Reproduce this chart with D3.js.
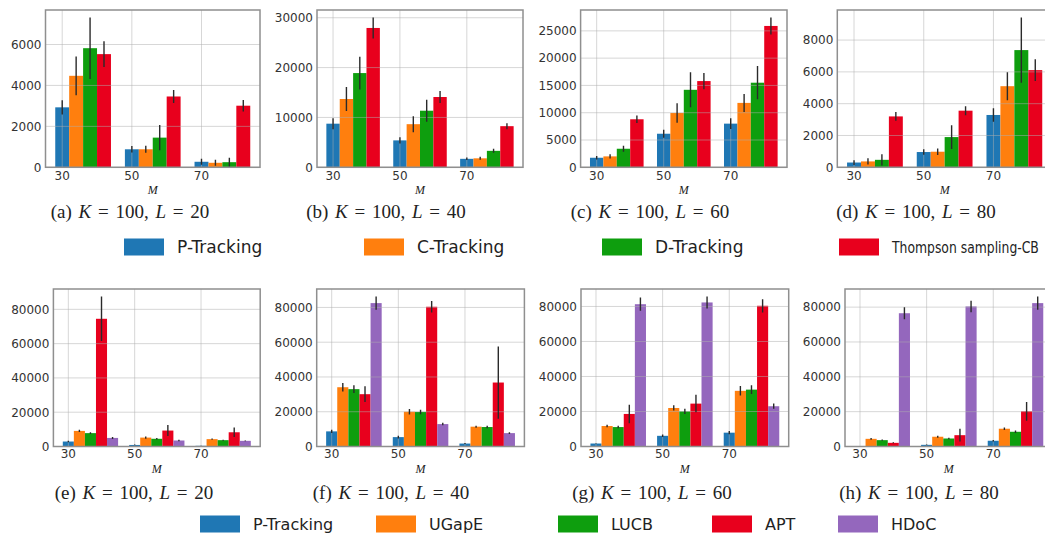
<!DOCTYPE html>
<html>
<head>
<meta charset="utf-8">
<script src="https://cdn.jsdelivr.net/npm/d3@7"></script>
<style>
  html, body { margin: 0; padding: 0; background: #fff; }
  svg { display: block; }
</style>
</head>
<body>
<script>
// ---------------- DATA ----------------
const categoriesM = ["30", "50", "70"];
const topSeries = ["P-Tracking", "C-Tracking", "D-Tracking", "Thompson sampling-CB"];
const bottomSeries = ["P-Tracking", "UGapE", "LUCB", "APT", "HDoC"];
const topColors = ["#1f77b4", "#ff7f0e", "#0e9e0e", "#e8001d"];
const bottomColors = ["#1f77b4", "#ff7f0e", "#0e9e0e", "#e8001d", "#9467bd"];

// rows = M groups (30, 50, 70); columns = series
const aMean = [[2930, 4470, 5820, 5530], [880, 880, 1450, 3460], [270, 220, 250, 3010]];
const aErr  = [[350, 950, 1500, 630], [160, 170, 620, 320], [150, 150, 220, 280]];
const bMean = [[8750, 13700, 18900, 27950], [5400, 8650, 11350, 14100], [1700, 1800, 3300, 8250]];
const bErr  = [[1100, 2400, 3300, 2100], [650, 1600, 2200, 1200], [250, 300, 400, 600]];
const cMean = [[1750, 2000, 3400, 8800], [6150, 9950, 14200, 15800], [8000, 11800, 15500, 25900]];
const cErr  = [[300, 400, 550, 700], [750, 1800, 3200, 1500], [1000, 1650, 3050, 1550]];
const dMean = [[300, 370, 470, 3200], [960, 980, 1900, 3560], [3290, 5100, 7370, 6110]];
const dErr  = [[150, 200, 350, 270], [170, 200, 750, 280], [430, 880, 2050, 680]];

const eMean = [[2900, 9100, 7800, 74500, 5000], [900, 5200, 4500, 9300, 3500], [400, 4300, 3700, 8300, 3300]];
const eErr  = [[400, 700, 500, 13000, 600], [200, 700, 400, 3200, 400], [100, 400, 300, 2800, 200]];
const fMean = [[8700, 34100, 33000, 30100, 82500], [5400, 20000, 19900, 80400, 12900], [1700, 11400, 11200, 36800, 7700]];
const fErr  = [[1000, 2400, 2200, 4500, 3800], [800, 1600, 1300, 3300, 700], [300, 600, 700, 20800, 500]];
const gMean = [[1700, 11700, 11100, 18600, 81300], [6100, 22000, 20100, 24500, 82300], [7900, 31800, 32500, 80400, 23000]];
const gErr  = [[200, 700, 700, 5300, 3800], [700, 1500, 1500, 5000, 3400], [900, 2700, 2500, 3800, 1500]];
const hMean = [[200, 4400, 3650, 2100, 76500], [950, 5600, 4600, 6500, 80400], [3300, 10200, 8450, 20200, 82300]];
const hErr  = [[100, 500, 300, 300, 3500], [200, 600, 400, 3700, 3300], [500, 700, 700, 5400, 3800]];

const aTicks = [0, 2000, 4000, 6000];
const bTicks = [0, 10000, 20000, 30000];
const cTicks = [0, 5000, 10000, 15000, 20000, 25000];
const dTicks = [0, 2000, 4000, 6000, 8000];
const bigTicks = [0, 20000, 40000, 60000, 80000];

const captionLetters = ["a", "b", "c", "d", "e", "f", "g", "h"];
const captionL = ["20", "40", "60", "80", "20", "40", "60", "80"];

// ---------------- LAYOUT ----------------
const W = 1045, H = 533;
const svg = d3.select("body").append("svg").attr("width", W).attr("height", H);

const rows = {
  top: { y0: 10, y1: 167.3, tickY: 180, mY: 194, capY: 218, legY: 247 },
  bottom: { y0: 289, y1: 446.5, tickY: 458, mY: 473, capY: 499, legY: 524 }
};

const panels = [
  { mean: aMean, err: aErr, ticks: aTicks, row: "top", x0: 45.5, x1: 260, cap: 130 },
  { mean: bMean, err: bErr, ticks: bTicks, row: "top", x0: 317, x1: 523, cap: 386 },
  { mean: cMean, err: cErr, ticks: cTicks, row: "top", x0: 580.6, x1: 787, cap: 650 },
  { mean: dMean, err: dErr, ticks: dTicks, row: "top", x0: 837.3, x1: 1052, cap: 916 },
  { mean: eMean, err: eErr, ticks: bigTicks, row: "bottom", x0: 53.4, x1: 260.2, cap: 134 },
  { mean: fMean, err: fErr, ticks: bigTicks, row: "bottom", x0: 316.7, x1: 524.4, cap: 391 },
  { mean: gMean, err: gErr, ticks: bigTicks, row: "bottom", x0: 581, x1: 788.7, cap: 652 },
  { mean: hMean, err: hErr, ticks: bigTicks, row: "bottom", x0: 845, x1: 1052.7, cap: 919 }
];

function drawPanel(p, idx) {
  const r = rows[p.row];
  const nSer = p.mean[0].length;
  const colors = nSer === 4 ? topColors : bottomColors;
  const bw = nSer === 4 ? 0.2 : 1 / 6;
  const dataMin = -bw / 2, dataMax = (categoriesM.length - 1) + (nSer - 1) * bw + bw / 2;
  const marg = 0.05 * (dataMax - dataMin);
  const x = d3.scaleLinear().domain([dataMin - marg, dataMax + marg]).range([p.x0, p.x1]);
  const ymax = 1.05 * d3.max(p.mean.flatMap((g, gi) => g.map((v, si) => v + p.err[gi][si])));
  const y = d3.scaleLinear().domain([0, ymax]).range([r.y1, r.y0]);

  const g = svg.append("g");
  const clipId = "clip" + idx;
  g.append("clipPath").attr("id", clipId).append("rect")
    .attr("x", p.x0).attr("y", r.y0).attr("width", p.x1 - p.x0).attr("height", r.y1 - r.y0);

  const flat = [];
  p.mean.forEach((grp, gi) => grp.forEach((v, si) => flat.push({ gi, si, v, e: p.err[gi][si] })));

  const plot = g.append("g").attr("clip-path", `url(#${clipId})`);
  plot.selectAll("rect.bar").data(flat).join("rect").attr("class", "bar")
    .attr("x", d => x(d.gi + d.si * bw - bw / 2))
    .attr("width", d => x(d.gi + d.si * bw + bw / 2) - x(d.gi + d.si * bw - bw / 2))
    .attr("y", d => y(d.v))
    .attr("height", d => y(0) - y(d.v))
    .attr("fill", d => colors[d.si]);

  // grid drawn over bars
  plot.selectAll("line.hg").data(p.ticks).join("line")
    .attr("x1", p.x0).attr("x2", p.x1)
    .attr("y1", d => y(d)).attr("y2", d => y(d))
    .attr("stroke", "#b0b0b0").attr("stroke-opacity", 0.5).attr("stroke-width", 1);
  plot.selectAll("line.vg").data(categoriesM).join("line")
    .attr("x1", (d, i) => x(i)).attr("x2", (d, i) => x(i))
    .attr("y1", r.y0).attr("y2", r.y1)
    .attr("stroke", "#b0b0b0").attr("stroke-opacity", 0.5).attr("stroke-width", 1);

  // error bars
  plot.selectAll("line.err").data(flat).join("line")
    .attr("x1", d => x(d.gi + d.si * bw)).attr("x2", d => x(d.gi + d.si * bw))
    .attr("y1", d => y(Math.max(0, d.v - d.e))).attr("y2", d => y(d.v + d.e))
    .attr("stroke", "#2a2a2a").attr("stroke-width", 1.4);

  // frame
  g.append("rect").attr("x", p.x0).attr("y", r.y0)
    .attr("width", p.x1 - p.x0).attr("height", r.y1 - r.y0)
    .attr("fill", "none").attr("stroke", "#8f8f8f").attr("stroke-width", 1.5);

  // y axis
  const yAxis = d3.axisLeft(y).tickValues(p.ticks).tickSize(0).tickPadding(4).tickFormat(d3.format("d"));
  const ya = g.append("g").attr("transform", `translate(${p.x0},0)`).call(yAxis);
  ya.select(".domain").remove();
  ya.selectAll("text").attr("font-family", "DejaVu Sans").attr("font-size", 12).attr("fill", "#333");

  // x tick labels
  g.selectAll("text.xt").data(categoriesM).join("text")
    .attr("x", (d, i) => x(i)).attr("y", r.tickY)
    .attr("text-anchor", "middle").attr("font-family", "DejaVu Sans").attr("font-size", 12)
    .attr("fill", "#333").text(d => d);

  // x label
  g.append("text").attr("x", (p.x0 + p.x1) / 2).attr("y", r.mY)
    .attr("text-anchor", "middle").attr("font-family", "Liberation Serif")
    .attr("font-style", "italic").attr("font-size", 12).attr("fill", "#222").text("M");

  // caption
  const cap = svg.append("text").attr("x", p.cap).attr("y", r.capY)
    .attr("text-anchor", "middle").attr("font-family", "Liberation Serif")
    .attr("font-size", 19).attr("word-spacing", 2).attr("fill", "#222").attr("xml:space", "preserve");
  cap.append("tspan").text(`(${captionLetters[idx]}) `);
  cap.append("tspan").attr("font-style", "italic").text("K");
  cap.append("tspan").text(" = 100, ");
  cap.append("tspan").attr("font-style", "italic").text("L");
  cap.append("tspan").text(` = ${captionL[idx]}`);
}

panels.forEach(drawPanel);

// legends
function drawLegend(names, colors, xs, cy, fs, maxRight) {
  const lg = svg.append("g");
  const items = lg.selectAll("g").data(names).join("g")
    .attr("transform", (d, i) => `translate(${xs[i]},${cy})`);
  items.append("rect").attr("x", 0).attr("y", -8.5).attr("width", 40).attr("height", 17)
    .attr("fill", (d, i) => colors[i]);
  items.append("g").attr("transform", "translate(53,0)")
    .append("text").attr("x", 0).attr("y", 0).attr("dy", "0.36em")
    .attr("font-family", "DejaVu Sans").attr("fill", "#222")
    .attr("font-size", fs)
    .text(d => d)
    .each(function (d, i) {
      const avail = maxRight - xs[i] - 53;
      const sel = d3.select(this);
      let wNat = this.getComputedTextLength();
      if (wNat > avail) {
        const size = Math.max(fs * 0.9, fs * avail / wNat);
        sel.attr("font-size", size);
        wNat = this.getComputedTextLength();
        if (wNat > avail) sel.attr("transform", `scale(${avail / wNat},1)`);
      }
    });
}
drawLegend(topSeries, topColors, [124, 364, 602, 839], rows.top.legY, 17, 1039);
drawLegend(bottomSeries, bottomColors, [200, 376, 558, 712, 838], rows.bottom.legY, 16, 1039);
</script>
</body>
</html>
